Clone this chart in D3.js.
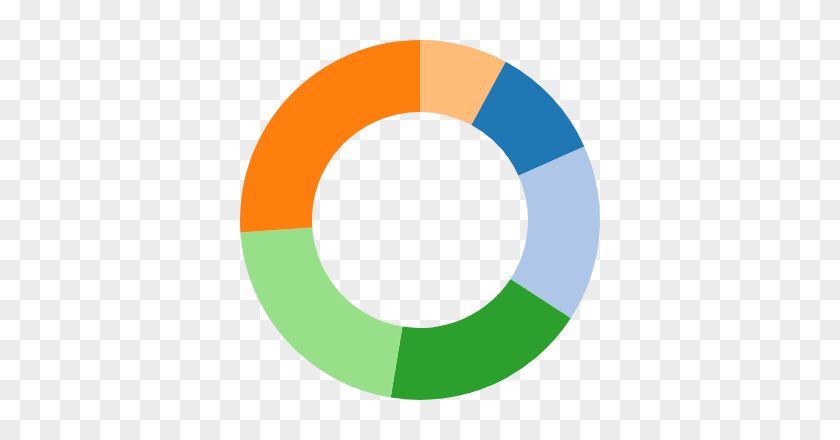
<!DOCTYPE html>
<html>
<head>
<meta charset="utf-8">
<script src="https://cdn.jsdelivr.net/npm/d3@7"></script>
<style>
html, body { margin: 0; padding: 0; background: #fff; }
svg { display: block; }
</style>
</head>
<body>
<svg id="chart" width="840" height="440"></svg>
<script>
const categories = ["A", "B", "C", "D", "E", "F"];
const values = [7.9, 10.4, 15.9, 18.4, 21.3, 26.1];
const colors = ["#ffbb78", "#1f77b4", "#aec7e8", "#2ca02c", "#98df8a", "#ff7f0e"];

const W = 840, H = 440;
const cx = 420, cy = 220, outerR = 180, innerR = 108;

const svg = d3.select("#chart");

// transparency-style checkerboard background
const defs = svg.append("defs");
const pat = defs.append("pattern")
  .attr("id", "checker")
  .attr("width", 40).attr("height", 40)
  .attr("patternUnits", "userSpaceOnUse");
pat.append("rect").attr("width", 40).attr("height", 40).attr("fill", "#ffffff");
pat.append("rect").attr("x", 20).attr("y", 0).attr("width", 20).attr("height", 20).attr("fill", "#ececec");
pat.append("rect").attr("x", 0).attr("y", 20).attr("width", 20).attr("height", 20).attr("fill", "#ececec");
svg.append("rect").attr("width", W).attr("height", H).attr("fill", "url(#checker)");

const color = d3.scaleOrdinal().domain(categories).range(colors);

const pie = d3.pie().sort(null).value((d, i) => values[i]);
const arc = d3.arc().innerRadius(innerR).outerRadius(outerR);

svg.append("g")
  .attr("transform", `translate(${cx},${cy})`)
  .selectAll("path")
  .data(pie(categories))
  .join("path")
  .attr("d", arc)
  .attr("fill", d => color(d.data));
</script>
</body>
</html>
